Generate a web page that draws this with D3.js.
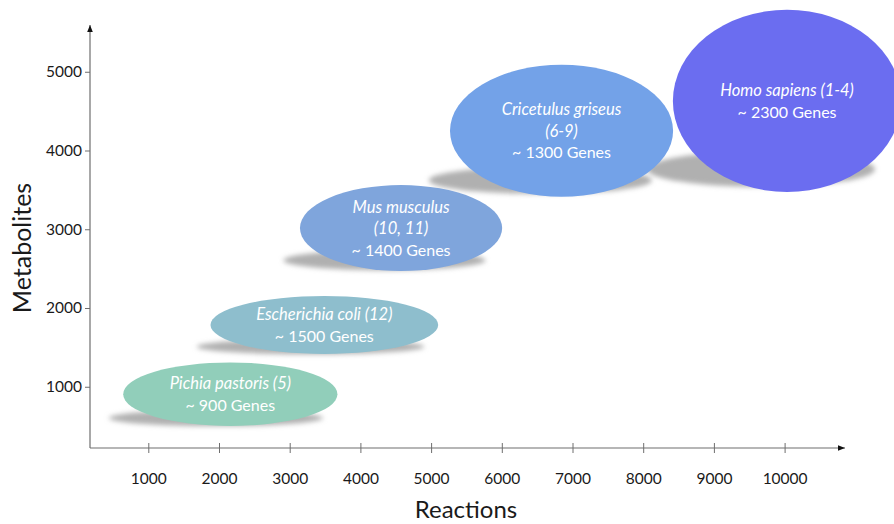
<!DOCTYPE html>
<html>
<head>
<meta charset="utf-8">
<script src="https://cdn.jsdelivr.net/npm/d3@7"></script>
<style>
  html, body { margin: 0; padding: 0; background: #ffffff; }
  svg { display: block; font-family: Lato, "Open Sans", sans-serif; }
</style>
</head>
<body>
<svg id="chart" width="894" height="524"></svg>
<script>
// ---- data ----
const species = ["Pichia pastoris", "Escherichia coli", "Mus musculus", "Cricetulus griseus", "Homo sapiens"];
const references = ["(5)", "(12)", "(10, 11)", "(6-9)", "(1-4)"];
const genes = [900, 1500, 1400, 1300, 2300];
const reactions = [2160, 3490, 4575, 6845, 10035];          // ellipse centre (reactions)
const metabolites = [905, 1785, 3015, 4250, 4630];          // ellipse centre (metabolites)
const reactionSpread = [1515, 1610, 1430, 1578, 1615];      // half-width in reactions
const metaboliteSpread = [403, 368, 546, 838, 1156];        // half-height in metabolites
const xTicks = [1000, 2000, 3000, 4000, 5000, 6000, 7000, 8000, 9000, 10000];
const yTicks = [1000, 2000, 3000, 4000, 5000];
const colors = ["#91ceba", "#8ebecd", "#7fa5dc", "#73a2e8", "#6b6df0"];
// label line layout per species
const labelLines = [
  [{t: "Pichia pastoris (5)", it: true}, {t: "~ 900 Genes"}],
  [{t: "Escherichia coli (12)", it: true}, {t: "~ 1500 Genes"}],
  [{t: "Mus musculus", it: true}, {t: "(10, 11)", it: true}, {t: "~ 1400 Genes"}],
  [{t: "Cricetulus griseus", it: true}, {t: "(6-9)", it: true}, {t: "~ 1300 Genes"}],
  [{t: "Homo sapiens (1-4)", it: true}, {t: "~ 2300 Genes"}]
];

const svg = d3.select("#chart");
const x = d3.scaleLinear().domain([0, 10000]).range([77.6, 784.6]);
const y = d3.scaleLinear().domain([0, 5000]).range([465.5, 71.75]);
const xMin = x.invert(90), xMax = x.invert(845);
const yMin = y.invert(448), yMax = y.invert(25);

const defs = svg.append("defs");
defs.append("filter").attr("id", "blur")
  .attr("x", "-20%").attr("y", "-100%").attr("width", "140%").attr("height", "300%")
  .append("feGaussianBlur").attr("stdDeviation", 2.8);
defs.append("marker").attr("id", "arrow")
  .attr("viewBox", "0 0 10 10").attr("refX", 10).attr("refY", 5)
  .attr("markerWidth", 7).attr("markerHeight", 7).attr("markerUnits", "userSpaceOnUse")
  .attr("orient", "auto")
  .append("path").attr("d", "M0,1 L10,5 L0,9 Z").attr("fill", "#111");

// ---- axes ----
const axisColor = "#6e6e6e";
const xAxis = svg.append("g").attr("transform", `translate(0,${y(yMin)})`)
  .call(d3.axisBottom(x).tickValues(xTicks).tickSize(5).tickPadding(20).tickFormat(d3.format("d")));
xAxis.select(".domain").remove();
xAxis.selectAll(".tick line").attr("y1", -5).attr("y2", 5).attr("stroke", axisColor);
xAxis.selectAll(".tick text").attr("font-size", 15.5).attr("fill", "#1a1a1a")
  .attr("font-family", "Lato, 'Open Sans', sans-serif");

const yAxis = svg.append("g").attr("transform", `translate(${x(xMin)},0)`)
  .call(d3.axisLeft(y).tickValues(yTicks).tickSize(5).tickPadding(3).tickFormat(d3.format("d")));
yAxis.select(".domain").remove();
yAxis.selectAll(".tick line").attr("stroke", axisColor);
yAxis.selectAll(".tick text").attr("font-size", 15.5).attr("fill", "#1a1a1a")
  .attr("font-family", "Lato, 'Open Sans', sans-serif");

svg.append("line")
  .attr("x1", x(xMin)).attr("y1", y(yMin)).attr("x2", x(xMax)).attr("y2", y(yMin))
  .attr("stroke", axisColor).attr("stroke-width", 1.2).attr("marker-end", "url(#arrow)");
svg.append("line")
  .attr("x1", x(xMin)).attr("y1", y(yMin)).attr("x2", x(xMin)).attr("y2", y(yMax))
  .attr("stroke", axisColor).attr("stroke-width", 1.2).attr("marker-end", "url(#arrow)");

svg.append("text").attr("x", 466).attr("y", 518).attr("text-anchor", "middle")
  .attr("font-size", 24).attr("fill", "#1a1a1a").text("Reactions");
svg.append("text").attr("transform", "translate(31,248) rotate(-90)").attr("text-anchor", "middle")
  .attr("font-size", 25).attr("fill", "#1a1a1a").text("Metabolites");

// ---- ellipses ----
const data = species.map((s, i) => {
  const cx = x(reactions[i]), cy = y(metabolites[i]);
  const rx = x(reactions[i] + reactionSpread[i]) - cx;
  const ry = cy - y(metabolites[i] + metaboliteSpread[i]);
  return {s, i, cx, cy, rx, ry, color: colors[i], lines: labelLines[i]};
});

const shadows = svg.append("g");
shadows.selectAll("ellipse").data(data).join("ellipse")
  .attr("cx", d => d.cx - (8 + 0.2 * d.ry))
  .attr("cy", d => d.cy + d.ry * 0.75)
  .attr("rx", d => d.rx)
  .attr("ry", d => 0.16 * d.ry + 3)
  .attr("fill", "#b0b0b0")
  .attr("filter", "url(#blur)");

const bubbles = svg.append("g");
bubbles.selectAll("ellipse").data(data).join("ellipse")
  .attr("cx", d => d.cx).attr("cy", d => d.cy)
  .attr("rx", d => d.rx).attr("ry", d => d.ry)
  .attr("fill", d => d.color);

const lineH = 21.5;
const labels = svg.append("g");
data.forEach(d => {
  const n = d.lines.length;
  d.lines.forEach((ln, j) => {
    labels.append("text")
      .attr("x", d.cx)
      .attr("y", d.cy + (j - (n - 1) / 2) * lineH + 6)
      .attr("text-anchor", "middle")
      .attr("font-size", ln.it ? 16.5 : 16)
      .attr("font-style", ln.it ? "italic" : "normal")
      .attr("fill", "#ffffff")
      .text(ln.t);
  });
});
</script>
</body>
</html>
